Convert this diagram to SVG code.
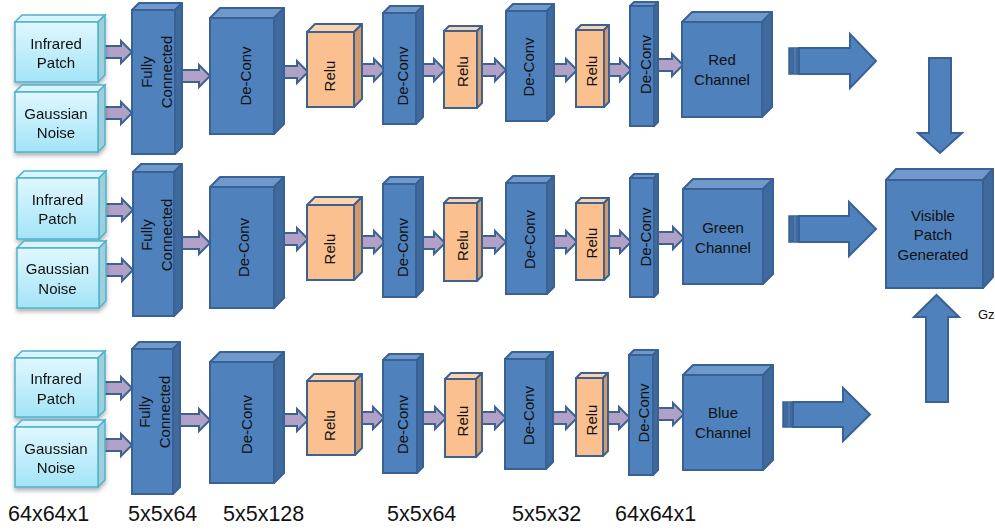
<svg xmlns="http://www.w3.org/2000/svg" width="995" height="531" viewBox="0 0 995 531">
<defs>
  <linearGradient id="cyanGrad" x1="0" y1="0" x2="0" y2="1">
    <stop offset="0" stop-color="#e0f7fe"/>
    <stop offset="1" stop-color="#a3e4f7"/>
  </linearGradient>
  <filter id="shadow" x="-20%" y="-20%" width="140%" height="150%">
    <feDropShadow dx="0" dy="3" stdDeviation="2" flood-color="#000" flood-opacity="0.3"/>
  </filter>
</defs>
<style>
  text { font-family: "Liberation Sans", Arial, sans-serif; fill: #111; }
  .lbl { font-size: 15px; text-anchor: middle; }
  .dim { font-size: 21.5px; }
  .cy-front { fill: url(#cyanGrad); stroke: #4eb3cc; stroke-width: 1.5; }
  .cy-top { fill: #d9f4fc; stroke: #4eb3cc; stroke-width: 1.5; }
  .cy-side { fill: #9fcfda; stroke: #4eb3cc; stroke-width: 1.5; }
  .b-front { fill: #4f81bd; stroke: #3a6193; stroke-width: 2; }
  .b-top { fill: #6f98cb; stroke: #3a6193; stroke-width: 2; stroke-linejoin: round; }
  .b-side { fill: #3f6a9e; stroke: #3a6193; stroke-width: 2; stroke-linejoin: round; }
  .o-front { fill: #fac090; stroke: #3d6190; stroke-width: 2; }
  .o-top { fill: #fcd3ad; stroke: #3d6190; stroke-width: 2; stroke-linejoin: round; }
  .o-side { fill: #d19a6b; stroke: #3d6190; stroke-width: 2; stroke-linejoin: round; }
  .parrow { fill: #b2a1c7; stroke: #3f6391; stroke-width: 2; stroke-linejoin: miter; }
  .barrow { fill: #4f81bd; stroke: #3a6193; stroke-width: 2; stroke-linejoin: miter; }
  .strip { fill: #3f6a9e; stroke: #3a6193; stroke-width: 1.5; }
</style>
<rect x="0" y="0" width="995" height="531" fill="#ffffff"/>

<g id="connectors">
  <!-- top row -->
  <polygon class="parrow" points="98,46 121,46 121,41 132,52 121,63 121,58 98,58"/>
  <polygon class="parrow" points="98,107 121,107 121,102 132,113 121,124 121,119 98,119"/>
  <polygon class="parrow" points="182,70 199,70 199,65 210,76 199,87 199,82 182,82"/>
  <polygon class="parrow" points="284,66 297,66 297,61 308,72 297,83 297,78 284,78"/>
  <polygon class="parrow" points="362,64 374,64 374,59 385,70 374,81 374,76 362,76"/>
  <polygon class="parrow" points="423,64 434,64 434,59 445,70 434,81 434,76 423,76"/>
  <polygon class="parrow" points="482,64 495,64 495,59 506,70 495,81 495,76 482,76"/>
  <polygon class="parrow" points="554,64 566,64 566,59 577,70 566,81 566,76 554,76"/>
  <polygon class="parrow" points="609,64 620,64 620,59 631,70 620,81 620,76 609,76"/>
  <polygon class="parrow" points="658,59 672,59 672,54 683,65 672,76 672,71 658,71"/>
  <!-- middle row -->
  <polygon class="parrow" points="99,204 122,204 122,199 133,210 122,221 122,216 99,216"/>
  <polygon class="parrow" points="99,264 122,264 122,259 133,270 122,281 122,276 99,276"/>
  <polygon class="parrow" points="182,237 199,237 199,232 210,243 199,254 199,249 182,249"/>
  <polygon class="parrow" points="284,233 297,233 297,228 308,239 297,250 297,245 284,245"/>
  <polygon class="parrow" points="362,236 374,236 374,231 385,242 374,253 374,248 362,248"/>
  <polygon class="parrow" points="423,237 434,237 434,232 445,243 434,254 434,249 423,249"/>
  <polygon class="parrow" points="482,236 495,236 495,231 506,242 495,253 495,248 482,248"/>
  <polygon class="parrow" points="554,236 566,236 566,231 577,242 566,253 566,248 554,248"/>
  <polygon class="parrow" points="609,236 620,236 620,231 631,242 620,253 620,248 609,248"/>
  <polygon class="parrow" points="658,232 673,232 673,227 684,238 673,249 673,244 658,244"/>
  <!-- bottom row -->
  <polygon class="parrow" points="98,382 121,382 121,377 132,388 121,399 121,394 98,394"/>
  <polygon class="parrow" points="98,439 121,439 121,434 132,445 121,456 121,451 98,451"/>
  <polygon class="parrow" points="180,414 199,414 199,409 210,420 199,431 199,426 180,426"/>
  <polygon class="parrow" points="284,414 297,414 297,409 308,420 297,431 297,426 284,426"/>
  <polygon class="parrow" points="362,412 373,412 373,407 384,418 373,429 373,424 362,424"/>
  <polygon class="parrow" points="423,412 435,412 435,407 446,418 435,429 435,424 423,424"/>
  <polygon class="parrow" points="482,412 495,412 495,407 506,418 495,429 495,424 482,424"/>
  <polygon class="parrow" points="553,412 566,412 566,407 577,418 566,429 566,424 553,424"/>
  <polygon class="parrow" points="608,412 619,412 619,407 630,418 619,429 619,424 608,424"/>
  <polygon class="parrow" points="658,408 673,408 673,403 684,414 673,425 673,420 658,420"/>
  <!-- big arrows -->
  <rect class="strip" x="789" y="48" width="10" height="26"/>
  <line x1="795" y1="48" x2="795" y2="74" stroke="#5b87bf" stroke-width="1"/>
  <polygon class="barrow" points="799,48 850,48 850,34 876,61 850,88 850,74 799,74"/>
  <rect class="strip" x="789" y="216" width="10" height="26"/>
  <line x1="795" y1="216" x2="795" y2="242" stroke="#5b87bf" stroke-width="1"/>
  <polygon class="barrow" points="799,216 849,216 849,202 876,229 849,256 849,242 799,242"/>
  <rect class="strip" x="783" y="402" width="10" height="25"/>
  <line x1="789" y1="402" x2="789" y2="427" stroke="#5b87bf" stroke-width="1"/>
  <polygon class="barrow" points="793,402 843,402 843,388 870,414.5 843,441 843,427 793,427"/>
  <polygon class="barrow" points="929,58 951,58 951,133 962,133 940,153 918,133 929,133"/>
  <polygon class="barrow" points="926,402 926,317 914,317 936.5,295 959,317 948,317 948,402"/>
</g>

<!-- ===== TOP ROW ===== -->
<g id="ir1" filter="url(#shadow)">
  <polygon class="cy-top" points="15,22 22,15 105,15 98,22"/>
  <polygon class="cy-side" points="98,22 105,15 105,75 98,82"/>
  <rect class="cy-front" x="15" y="22" width="83" height="60"/>
  <text class="lbl" x="56" y="48.5">Infrared</text>
  <text class="lbl" x="56" y="68">Patch</text>
</g>
<g id="gn1" filter="url(#shadow)">
  <polygon class="cy-top" points="15,92 22,85 105,85 98,92"/>
  <polygon class="cy-side" points="98,92 105,85 105,145 98,152"/>
  <rect class="cy-front" x="15" y="92" width="83" height="60"/>
  <text class="lbl" x="56" y="119">Gaussian</text>
  <text class="lbl" x="56" y="138">Noise</text>
</g>
<g id="fc1">
  <polygon class="b-top" points="132,10 139,3 182,3 175,10"/>
  <polygon class="b-side" points="175,10 182,3 182,147 175,154"/>
  <rect class="b-front" x="132" y="10" width="43" height="144"/>
  <text class="lbl" transform="translate(153.5,72) rotate(-90)" y="-2">Fully</text>
  <text class="lbl" transform="translate(153.5,72) rotate(-90)" y="18">Connected</text>
</g>
<g id="dc1a">
  <polygon class="b-top" points="210,18 220,8 284,8 274,18"/>
  <polygon class="b-side" points="274,18 284,8 284,124 274,134"/>
  <rect class="b-front" x="210" y="18" width="64" height="116"/>
  <text class="lbl" transform="translate(246,76) rotate(-90)" y="5">De-Conv</text>
</g>
<g id="relu1a">
  <polygon class="o-top" points="307,32 315,24 362,24 354,32"/>
  <polygon class="o-side" points="354,32 362,24 362,99 354,107"/>
  <rect class="o-front" x="307" y="32" width="47" height="75"/>
  <text class="lbl" transform="translate(330,76) rotate(-90)" y="5">Relu</text>
</g>
<g id="dc2a">
  <polygon class="b-top" points="383,13 390,6 423,6 416,13"/>
  <polygon class="b-side" points="416,13 423,6 423,117 416,124"/>
  <rect class="b-front" x="383" y="13" width="33" height="111"/>
  <text class="lbl" transform="translate(402.5,76) rotate(-90)" y="5">De-Conv</text>
</g>
<g id="relu2a">
  <polygon class="o-top" points="444,31 449,26 482,26 477,31"/>
  <polygon class="o-side" points="477,31 482,26 482,103 477,108"/>
  <rect class="o-front" x="444" y="31" width="33" height="77"/>
  <text class="lbl" transform="translate(462.5,71.5) rotate(-90)" y="5">Relu</text>
</g>
<g id="dc3a">
  <polygon class="b-top" points="506,11 513,4 554,4 547,11"/>
  <polygon class="b-side" points="547,11 554,4 554,114 547,121"/>
  <rect class="b-front" x="506" y="11" width="41" height="110"/>
  <text class="lbl" transform="translate(529,67) rotate(-90)" y="5">De-Conv</text>
</g>
<g id="relu3a">
  <polygon class="o-top" points="576,30 581,25 609,25 604,30"/>
  <polygon class="o-side" points="604,30 609,25 609,102 604,107"/>
  <rect class="o-front" x="576" y="30" width="28" height="77"/>
  <text class="lbl" transform="translate(591.5,71) rotate(-90)" y="5">Relu</text>
</g>
<g id="dc4a">
  <polygon class="b-top" points="630,6 634,2 658,2 654,6"/>
  <polygon class="b-side" points="654,6 658,2 658,122 654,126"/>
  <rect class="b-front" x="630" y="6" width="24" height="120"/>
  <text class="lbl" transform="translate(645.5,64.5) rotate(-90)" y="5">De-Conv</text>
</g>
<g id="red">
  <polygon class="b-top" points="682,22 692,12 772,12 762,22"/>
  <polygon class="b-side" points="762,22 772,12 772,107 762,117"/>
  <rect class="b-front" x="682" y="22" width="80" height="95"/>
  <text class="lbl" x="722" y="65">Red</text>
  <text class="lbl" x="722" y="85">Channel</text>
</g>

<!-- ===== MIDDLE ROW ===== -->
<g id="ir2" filter="url(#shadow)">
  <polygon class="cy-top" points="17,178 24,171 106,171 99,178"/>
  <polygon class="cy-side" points="99,178 106,171 106,232 99,239"/>
  <rect class="cy-front" x="17" y="178" width="82" height="61"/>
  <text class="lbl" x="57.5" y="205">Infrared</text>
  <text class="lbl" x="57.5" y="224">Patch</text>
</g>
<g id="gn2" filter="url(#shadow)">
  <polygon class="cy-top" points="17,248 24,241 106,241 99,248"/>
  <polygon class="cy-side" points="99,248 106,241 106,301 99,308"/>
  <rect class="cy-front" x="17" y="248" width="82" height="60"/>
  <text class="lbl" x="57.5" y="274">Gaussian</text>
  <text class="lbl" x="57.5" y="294">Noise</text>
</g>
<g id="fc2">
  <polygon class="b-top" points="133,172 141,164 182,164 174,172"/>
  <polygon class="b-side" points="174,172 182,164 182,308 174,316"/>
  <rect class="b-front" x="133" y="172" width="41" height="144"/>
  <text class="lbl" transform="translate(153.5,235) rotate(-90)" y="-2">Fully</text>
  <text class="lbl" transform="translate(153.5,235) rotate(-90)" y="18">Connected</text>
</g>
<g id="dc1b">
  <polygon class="b-top" points="210,187 220,177 284,177 274,187"/>
  <polygon class="b-side" points="274,187 284,177 284,298 274,308"/>
  <rect class="b-front" x="210" y="187" width="64" height="121"/>
  <text class="lbl" transform="translate(244,247.5) rotate(-90)" y="5">De-Conv</text>
</g>
<g id="relu1b">
  <polygon class="o-top" points="307,205 315,197 362,197 354,205"/>
  <polygon class="o-side" points="354,205 362,197 362,272 354,280"/>
  <rect class="o-front" x="307" y="205" width="47" height="75"/>
  <text class="lbl" transform="translate(329.5,249) rotate(-90)" y="5">Relu</text>
</g>
<g id="dc2b">
  <polygon class="b-top" points="383,184 390,177 423,177 416,184"/>
  <polygon class="b-side" points="416,184 423,177 423,290 416,297"/>
  <rect class="b-front" x="383" y="184" width="33" height="113"/>
  <text class="lbl" transform="translate(402.5,247.5) rotate(-90)" y="5">De-Conv</text>
</g>
<g id="relu2b">
  <polygon class="o-top" points="444,203 449,198 482,198 477,203"/>
  <polygon class="o-side" points="477,203 482,198 482,276 477,281"/>
  <rect class="o-front" x="444" y="203" width="33" height="78"/>
  <text class="lbl" transform="translate(462.5,245.5) rotate(-90)" y="5">Relu</text>
</g>
<g id="dc3b">
  <polygon class="b-top" points="506,183 513,176 554,176 547,183"/>
  <polygon class="b-side" points="547,183 554,176 554,287 547,294"/>
  <rect class="b-front" x="506" y="183" width="41" height="111"/>
  <text class="lbl" transform="translate(529.5,239.5) rotate(-90)" y="5">De-Conv</text>
</g>
<g id="relu3b">
  <polygon class="o-top" points="576,203 581,198 609,198 604,203"/>
  <polygon class="o-side" points="604,203 609,198 609,275 604,280"/>
  <rect class="o-front" x="576" y="203" width="28" height="77"/>
  <text class="lbl" transform="translate(591.5,243) rotate(-90)" y="5">Relu</text>
</g>
<g id="dc4b">
  <polygon class="b-top" points="630,178 634,174 658,174 654,178"/>
  <polygon class="b-side" points="654,178 658,174 658,293 654,297"/>
  <rect class="b-front" x="630" y="178" width="24" height="119"/>
  <text class="lbl" transform="translate(645.5,237) rotate(-90)" y="5">De-Conv</text>
</g>
<g id="green">
  <polygon class="b-top" points="683,189 693,179 773,179 763,189"/>
  <polygon class="b-side" points="763,189 773,179 773,274 763,284"/>
  <rect class="b-front" x="683" y="189" width="80" height="95"/>
  <text class="lbl" x="723" y="233">Green</text>
  <text class="lbl" x="723" y="253">Channel</text>
</g>

<!-- ===== BOTTOM ROW ===== -->
<g id="ir3" filter="url(#shadow)">
  <polygon class="cy-top" points="15,358 22,351 105,351 98,358"/>
  <polygon class="cy-side" points="98,358 105,351 105,410 98,417"/>
  <rect class="cy-front" x="15" y="358" width="83" height="59"/>
  <text class="lbl" x="56" y="384">Infrared</text>
  <text class="lbl" x="56" y="404">Patch</text>
</g>
<g id="gn3" filter="url(#shadow)">
  <polygon class="cy-top" points="15,427 22,420 105,420 98,427"/>
  <polygon class="cy-side" points="98,427 105,420 105,480 98,487"/>
  <rect class="cy-front" x="15" y="427" width="83" height="60"/>
  <text class="lbl" x="56" y="454">Gaussian</text>
  <text class="lbl" x="56" y="473">Noise</text>
</g>
<g id="fc3">
  <polygon class="b-top" points="132,349 139,342 180,342 173,349"/>
  <polygon class="b-side" points="173,349 180,342 180,487 173,494"/>
  <rect class="b-front" x="132" y="349" width="41" height="145"/>
  <text class="lbl" transform="translate(152.5,412) rotate(-90)" y="-3">Fully</text>
  <text class="lbl" transform="translate(152.5,412) rotate(-90)" y="17">Connected</text>
</g>
<g id="dc1c">
  <polygon class="b-top" points="210,362 220,352 284,352 274,362"/>
  <polygon class="b-side" points="274,362 284,352 284,473 274,483"/>
  <rect class="b-front" x="210" y="362" width="64" height="121"/>
  <text class="lbl" transform="translate(246.5,424.5) rotate(-90)" y="5">De-Conv</text>
</g>
<g id="relu1c">
  <polygon class="o-top" points="307,381 314,374 362,374 355,381"/>
  <polygon class="o-side" points="355,381 362,374 362,448 355,455"/>
  <rect class="o-front" x="307" y="381" width="48" height="74"/>
  <text class="lbl" transform="translate(330,425.5) rotate(-90)" y="5">Relu</text>
</g>
<g id="dc2c">
  <polygon class="b-top" points="383,360 389,354 423,354 417,360"/>
  <polygon class="b-side" points="417,360 423,354 423,467 417,473"/>
  <rect class="b-front" x="383" y="360" width="34" height="113"/>
  <text class="lbl" transform="translate(402.5,424.5) rotate(-90)" y="5">De-Conv</text>
</g>
<g id="relu2c">
  <polygon class="o-top" points="445,379 451,373 482,373 476,379"/>
  <polygon class="o-side" points="476,379 482,373 482,451 476,457"/>
  <rect class="o-front" x="445" y="379" width="31" height="78"/>
  <text class="lbl" transform="translate(463,421) rotate(-90)" y="5">Relu</text>
</g>
<g id="dc3c">
  <polygon class="b-top" points="505,359 512,352 553,352 546,359"/>
  <polygon class="b-side" points="546,359 553,352 553,462 546,469"/>
  <rect class="b-front" x="505" y="359" width="41" height="110"/>
  <text class="lbl" transform="translate(529,415.5) rotate(-90)" y="5">De-Conv</text>
</g>
<g id="relu3c">
  <polygon class="o-top" points="576,378 581,373 608,373 603,378"/>
  <polygon class="o-side" points="603,378 608,373 608,451 603,456"/>
  <rect class="o-front" x="576" y="378" width="27" height="78"/>
  <text class="lbl" transform="translate(592,420) rotate(-90)" y="5">Relu</text>
</g>
<g id="dc4c">
  <polygon class="b-top" points="629,355 634,350 658,350 653,355"/>
  <polygon class="b-side" points="653,355 658,350 658,470 653,475"/>
  <rect class="b-front" x="629" y="355" width="24" height="120"/>
  <text class="lbl" transform="translate(644,413) rotate(-90)" y="5">De-Conv</text>
</g>
<g id="blue">
  <polygon class="b-top" points="683,375 693,365 773,365 763,375"/>
  <polygon class="b-side" points="763,375 773,365 773,460 763,470"/>
  <rect class="b-front" x="683" y="375" width="80" height="95"/>
  <text class="lbl" x="723" y="418">Blue</text>
  <text class="lbl" x="723" y="438">Channel</text>
</g>

<!-- ===== OUTPUT ===== -->
<g id="visible">
  <polygon class="b-top" points="886,180 896,169 993,169 983,180"/>
  <polygon class="b-side" points="983,180 993,169 993,277 983,288"/>
  <rect class="b-front" x="886" y="180" width="97" height="108"/>
  <text class="lbl" x="933" y="221">Visible</text>
  <text class="lbl" x="933" y="240">Patch</text>
  <text class="lbl" x="933" y="260">Generated</text>
</g>
<g id="gz-label">
  <text x="978" y="319" font-size="13">Gz</text>
</g>

<g id="dims">
  <text class="dim" x="8" y="521">64x64x1</text>
  <text class="dim" x="128" y="521">5x5x64</text>
  <text class="dim" x="223" y="521">5x5x128</text>
  <text class="dim" x="387" y="521">5x5x64</text>
  <text class="dim" x="512" y="521">5x5x32</text>
  <text class="dim" x="615" y="521">64x64x1</text>
</g>
</svg>
